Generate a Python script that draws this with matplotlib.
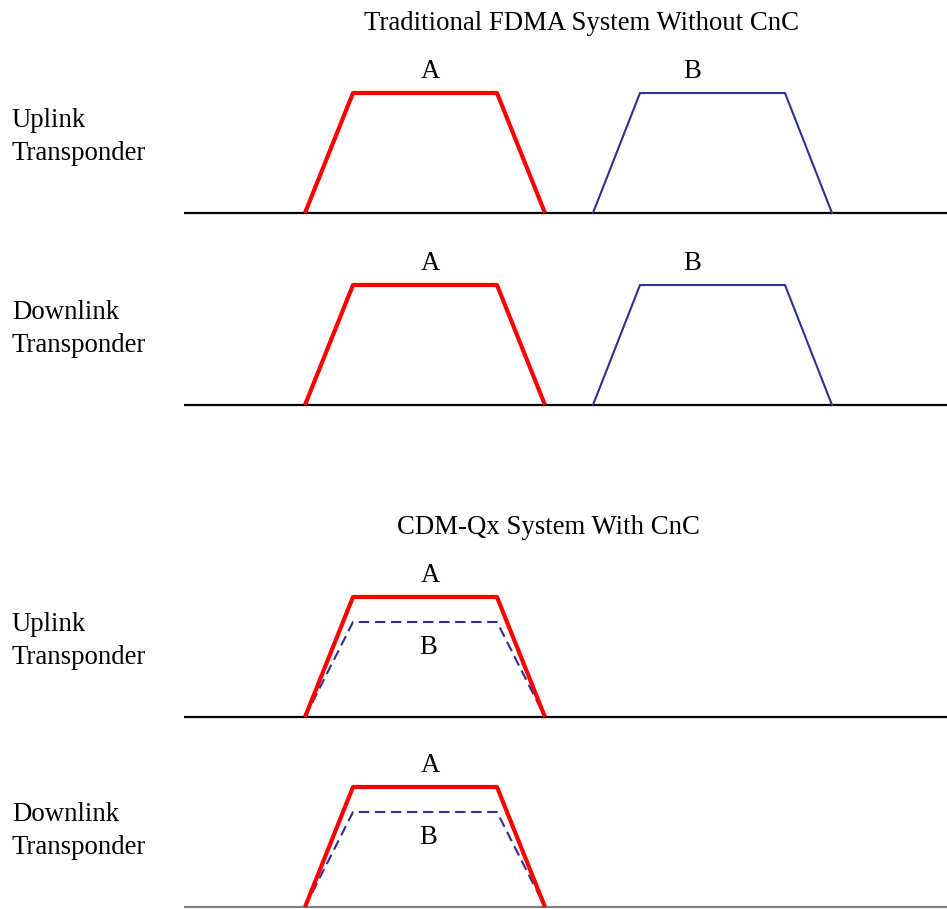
import numpy as np
import matplotlib
matplotlib.use("Agg")
import matplotlib.pyplot as plt

plt.rcParams["font.family"] = ["Liberation Serif", "DejaVu Serif"]

# diagram data (pixel units of the original drawing)
titles = ["Traditional FDMA System Without CnC", "CDM-Qx System With CnC"]
row_names = ["Uplink\nTransponder", "Downlink\nTransponder",
             "Uplink\nTransponder", "Downlink\nTransponder"]
baselines = [213, 405, 717, 907]
# trapezoid corner x positions and heights
trap_a_x = [305, 353, 497, 545]
trap_b_x = [593, 640, 785, 832]
height_a = 120
height_b_fdma = 120
height_b_cdm = 95

fig = plt.figure(figsize=(9.47, 9.09), dpi=100)
ax = fig.add_axes([0, 0, 1, 1])
ax.set_xlim(0, 947)
ax.set_ylim(909, 0)
ax.axis("off")

red = "#ff0000"
blue = "#2e3192"
fs = 19.3

def trap(xs, base, h):
    return np.array(xs), np.array([base, base - h, base - h, base])

ax.text(582, 24, titles[0], ha="center", va="center", fontsize=fs)
ax.text(548, 527, titles[1], ha="center", va="center", fontsize=fs)

for i, base in enumerate(baselines):
    col = "black" if i < 3 else "#808080"
    ax.plot([184, 947], [base, base], color=col, lw=1.6, solid_capstyle="butt")
    ax.text(12, base - 76, row_names[i], ha="left", va="center",
            fontsize=fs, linespacing=1.45)
    xa, ya = trap(trap_a_x, base, height_a)
    if i < 2:
        xb, yb = trap(trap_b_x, base, height_b_fdma)
        ax.plot(xb, yb, color=blue, lw=1.5)
        ax.plot(xa, ya, color=red, lw=3, solid_capstyle="butt")
        ax.text(430, base - height_a - 21, "A", ha="center", va="center", fontsize=fs)
        ax.text(692, base - height_b_fdma - 21, "B", ha="center", va="center", fontsize=fs)
    else:
        xb, yb = trap(trap_a_x, base, height_b_cdm)
        ax.plot(xb, yb, color=blue, lw=1.5, dashes=(5, 2.7))
        ax.plot(xa, ya, color=red, lw=3, solid_capstyle="butt")
        ax.text(430, base - height_a - 21, "A", ha="center", va="center", fontsize=fs)
        ax.text(428, base - height_b_cdm + 25, "B", ha="center", va="center", fontsize=fs)

fig.savefig("out.png", dpi=100)
